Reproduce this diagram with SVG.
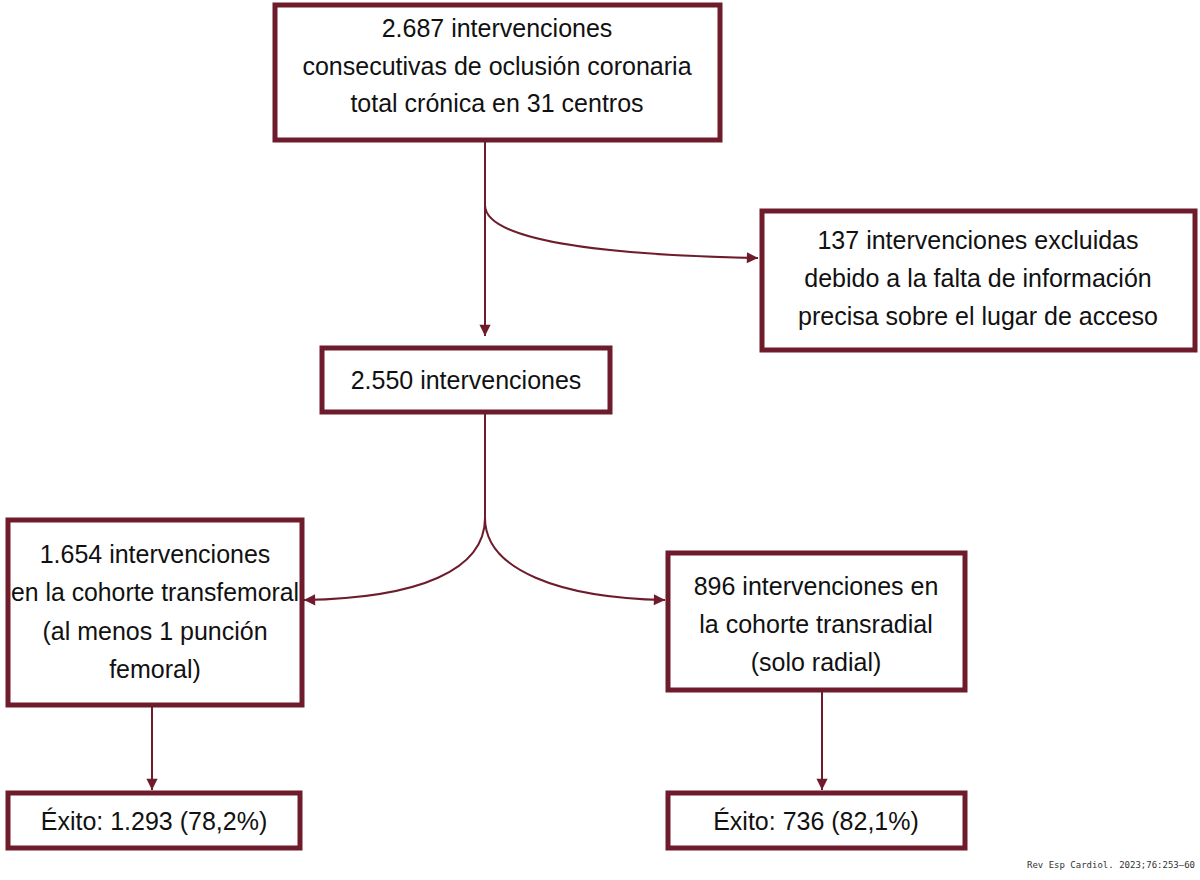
<svg xmlns="http://www.w3.org/2000/svg" width="1200" height="880" viewBox="0 0 1200 880">
<style>
.b{fill:#fff;stroke:#6e1c2b;stroke-width:5}
.t{font-family:"Liberation Sans",Arial,sans-serif;font-size:25px;fill:#111;text-anchor:middle}
.c{fill:none;stroke:#6e1c2b;stroke-width:2}
</style>
<defs><marker id="a" viewBox="0 0 10 10" refX="10" refY="5" markerWidth="7" markerHeight="7" orient="auto" markerUnits="userSpaceOnUse" style="overflow:visible"><path d="M0,0L10,5L0,10z" fill="#6e1c2b" transform="scale(1.6) translate(-3.7,-1.9)"/></marker></defs>
<g id="connectors">
<path class="c" d="M485,140V336" marker-end="url(#a)"/>
<path class="c" d="M485,205C485,240 600,255 758,258" marker-end="url(#a)"/>
<path class="c" d="M485,412V518C485,570 420,598 304,600" marker-end="url(#a)"/>
<path class="c" d="M485,518C485,570 560,598 665,600" marker-end="url(#a)"/>
<path class="c" d="M152,705V790" marker-end="url(#a)"/>
<path class="c" d="M822,690V790" marker-end="url(#a)"/>
</g>
<g id="n1"><rect class="b" x="275" y="5" width="445" height="135"/><text class="t" x="497" y="37">2.687 intervenciones</text><text class="t" x="497" y="75">consecutivas de oclusión coronaria</text><text class="t" x="497" y="112">total crónica en 31 centros</text></g>
<g id="n2"><rect class="b" x="762" y="211" width="433" height="139"/><text class="t" x="978" y="249">137 intervenciones excluidas</text><text class="t" x="978" y="287">debido a la falta de información</text><text class="t" x="978" y="325">precisa sobre el lugar de acceso</text></g>
<g id="n3"><rect class="b" x="322" y="348" width="288" height="64"/><text class="t" x="466" y="389">2.550 intervenciones</text></g>
<g id="n4"><rect class="b" x="8" y="520" width="294" height="185"/><text class="t" x="155" y="563">1.654 intervenciones</text><text class="t" x="155" y="601" textLength="288" lengthAdjust="spacingAndGlyphs">en la cohorte transfemoral</text><text class="t" x="155" y="640">(al menos 1 punción</text><text class="t" x="155" y="678">femoral)</text></g>
<g id="n5"><rect class="b" x="668" y="553" width="297" height="137"/><text class="t" x="816" y="595">896 intervenciones en</text><text class="t" x="816" y="633">la cohorte transradial</text><text class="t" x="816" y="671">(solo radial)</text></g>
<g id="n6"><rect class="b" x="8" y="793" width="292" height="55"/><text class="t" x="154" y="830">Éxito: 1.293 (78,2%)</text></g>
<g id="n7"><rect class="b" x="668" y="793" width="297" height="55"/><text class="t" x="816" y="830">Éxito: 736 (82,1%)</text></g>
<text x="1195" y="868" style="font-family:'DejaVu Sans Mono',monospace;font-size:9px;fill:#333;text-anchor:end">Rev Esp Cardiol. 2023;76:253–60</text>
</svg>
